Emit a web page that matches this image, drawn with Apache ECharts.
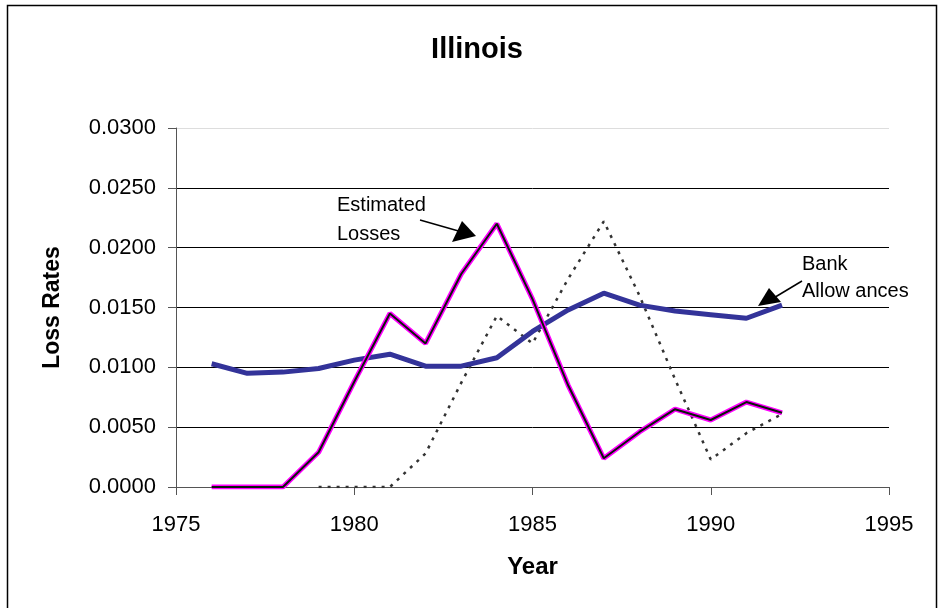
<!DOCTYPE html>
<html>
<head>
<meta charset="utf-8">
<script src="https://cdn.jsdelivr.net/npm/echarts@6/dist/echarts.min.js"></script>
<style>
    html, body { margin: 0; padding: 0; background: #fff; }
    #chart { width: 938px; height: 608px; }
</style>
</head>
<body>
<div id="chart"></div>
<script>
// years on the x axis
var years = [1976, 1977, 1978, 1979, 1980, 1981, 1982, 1983, 1984, 1985, 1986, 1987, 1988, 1989, 1990, 1991, 1992];
// bank allowances (thick blue)
var bankAllowances = [0.0103, 0.0095, 0.0096, 0.0099, 0.0106, 0.0111, 0.0101, 0.0101, 0.0108, 0.0130, 0.0148, 0.0162, 0.0152, 0.0147, 0.0144, 0.0141, 0.0152];
// estimated losses (magenta / black)
var estimatedLosses = [0.0000, 0.0000, 0.0000, 0.0029, 0.0088, 0.0145, 0.0120, 0.0178, 0.0220, 0.0157, 0.0085, 0.0024, 0.0046, 0.0065, 0.0056, 0.0071, 0.0062];
// dotted series, starts in 1979
var dottedYears = [1979, 1980, 1981, 1982, 1983, 1984, 1985, 1986, 1987, 1988, 1989, 1990, 1991, 1992];
var dottedLosses = [0.0000, 0.0000, 0.0000, 0.0028, 0.0087, 0.0143, 0.0120, 0.0174, 0.0222, 0.0160, 0.0090, 0.0023, 0.0045, 0.0061];

function pairs(xs, ys) {
    return xs.map(function (x, i) { return [x, ys[i]]; });
}

var chart = echarts.init(document.getElementById('chart'));
var font = 'Liberation Sans, Arial, sans-serif';

var option = {
    animation: false,
    title: {
        text: 'Illinois',
        left: 472,
        top: 30,
        textAlign: 'center',
        textStyle: { fontFamily: font, fontSize: 29, fontWeight: 'bold', color: '#000' }
    },
    grid: { left: 176, right: 49, top: 128, bottom: 121 },
    xAxis: {
        type: 'value',
        min: 1975, max: 1995, interval: 5,
        name: 'Year',
        nameLocation: 'middle',
        nameGap: 68,
        nameTextStyle: { fontFamily: font, fontSize: 24, fontWeight: 'bold', color: '#000' },
        axisLine: { onZero: false, lineStyle: { color: '#555', width: 1 } },
        axisTick: { show: true, length: 8, lineStyle: { color: '#555' } },
        axisLabel: {
            fontFamily: font, fontSize: 22, color: '#000', margin: 27,
            formatter: function (v) { return String(v); }
        },
        splitLine: { show: false }
    },
    yAxis: {
        type: 'value',
        min: 0, max: 0.03, interval: 0.005,
        name: 'Loss Rates',
        nameLocation: 'middle',
        nameGap: 112,
        nameTextStyle: { fontFamily: font, fontSize: 23, fontWeight: 'bold', color: '#000' },
        axisLine: { show: true, lineStyle: { color: '#555', width: 1 } },
        axisTick: { show: true, length: 8, lineStyle: { color: '#555' } },
        axisLabel: {
            fontFamily: font, fontSize: 22, color: '#000', margin: 20,
            formatter: function (v) { return v.toFixed(4); }
        },
        splitLine: {
            show: true,
            lineStyle: { color: ['#000', '#000', '#000', '#000', '#000', '#000', '#ddd'], width: 1 }
        }
    },
    series: [
        {
            name: 'Dotted',
            type: 'line',
            data: pairs(dottedYears, dottedLosses),
            symbol: 'none',
            lineStyle: { color: '#333', width: 2.5, type: [3, 6] },
            z: 2
        },
        {
            name: 'Bank Allowances',
            type: 'line',
            data: pairs(years, bankAllowances),
            symbol: 'none',
            lineStyle: { color: '#333399', width: 5 },
            z: 3
        },
        {
            name: 'Estimated Losses outline',
            type: 'line',
            data: pairs(years, estimatedLosses),
            symbol: 'none',
            lineStyle: { color: '#ff00ff', width: 5 },
            z: 4
        },
        {
            name: 'Estimated Losses',
            type: 'line',
            data: pairs(years, estimatedLosses),
            symbol: 'none',
            lineStyle: { color: '#0a1a0a', width: 2 },
            z: 5
        }
    ],
    graphic: [
        // outer frame
        { type: 'rect', shape: { x: 7.5, y: 5.5, width: 929, height: 610 }, style: { fill: null, stroke: '#000', lineWidth: 1.5 }, silent: true },
        // Estimated Losses note
        { type: 'text', left: 337, top: 191, style: { text: 'Estimated\nLosses', font: '20px ' + font, fill: '#000', lineHeight: 29 } },
        { type: 'line', shape: { x1: 420, y1: 220, x2: 462, y2: 232 }, style: { stroke: '#000', lineWidth: 1.5 } },
        { type: 'polygon', shape: { points: [[476, 236], [452, 242], [462, 221]] }, style: { fill: '#000' } },
        // Bank Allowances note
        { type: 'text', left: 802, top: 251, style: { text: 'Bank\nAllow ances', font: '20px ' + font, fill: '#000', lineHeight: 27 } },
        { type: 'line', shape: { x1: 802, y1: 281, x2: 772, y2: 299 }, style: { stroke: '#000', lineWidth: 1.5 } },
        { type: 'polygon', shape: { points: [[758, 306], [769, 288], [781, 302]] }, style: { fill: '#000' } }
    ]
};

chart.setOption(option);
</script>
</body>
</html>
